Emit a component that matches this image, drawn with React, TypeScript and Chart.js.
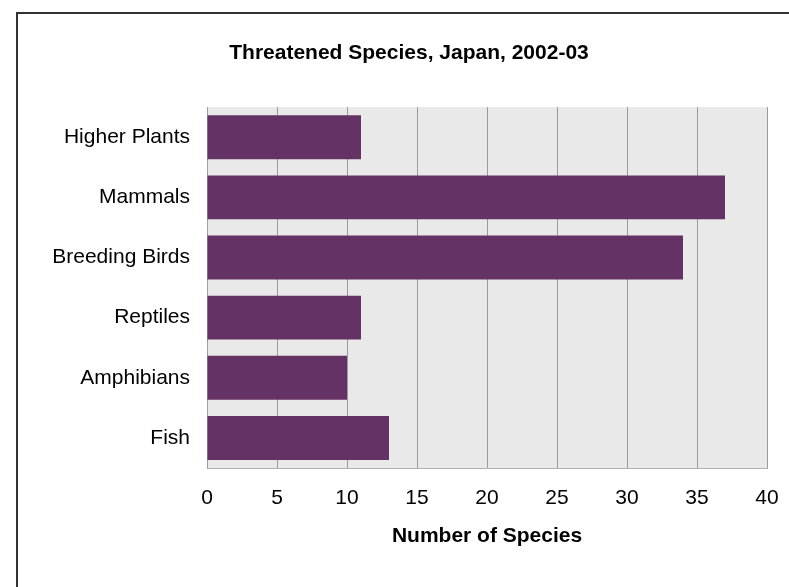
import React, { useEffect, useRef } from 'react';
import { Chart, registerables } from 'chart.js';

Chart.register(...registerables);

const chartTitle = 'Threatened Species, Japan, 2002-03';
const categories = ['Higher Plants', 'Mammals', 'Breeding Birds', 'Reptiles', 'Amphibians', 'Fish'];
const speciesCounts = [11, 37, 34, 11, 10, 13];
const xAxisTitle = 'Number of Species';
const xMin = 0;
const xMax = 40;
const xStep = 5;

const plotBackground = {
  id: 'plotBackground',
  beforeDraw(chart: any) {
    const { ctx, chartArea } = chart;
    if (!chartArea) return;
    ctx.save();
    ctx.fillStyle = '#e9e9e9';
    ctx.fillRect(chartArea.left, chartArea.top, chartArea.right - chartArea.left, chartArea.bottom - chartArea.top);
    ctx.restore();
  },
};

export default function App() {
  const canvasRef = useRef<HTMLCanvasElement | null>(null);

  useEffect(() => {
    if (!canvasRef.current) return;
    const chart = new Chart(canvasRef.current, {
      type: 'bar',
      data: {
        labels: categories,
        datasets: [
          {
            data: speciesCounts,
            backgroundColor: '#643264',
            borderWidth: 0,
            barPercentage: 0.73,
            categoryPercentage: 1,
          },
        ],
      },
      options: {
        indexAxis: 'y',
        responsive: false,
        animation: false,
        devicePixelRatio: 1,
        layout: { padding: { top: 0, right: 22, bottom: 29, left: 33 } },
        plugins: {
          legend: { display: false },
          tooltip: { enabled: false },
          title: {
            display: true,
            text: chartTitle,
            color: '#000',
            font: { family: 'Liberation Sans, Arial, sans-serif', size: 21, weight: 'bold' },
            padding: { top: 27, bottom: 41 },
          },
        },
        scales: {
          x: {
            min: xMin,
            max: xMax,
            ticks: {
              stepSize: xStep,
              color: '#000',
              padding: 18,
              font: { family: 'Liberation Sans, Arial, sans-serif', size: 21 },
            },
            grid: { color: '#9a9a9a', lineWidth: 1, drawTicks: false },
            border: { display: true, color: '#b0b0b0', width: 1 },
            title: {
              display: true,
              text: xAxisTitle,
              color: '#000',
              font: { family: 'Liberation Sans, Arial, sans-serif', size: 21, weight: 'bold' },
              padding: { top: 0, bottom: 9 },
            },
            afterFit(scale: any) {
              scale.height = 90;
              scale.paddingRight = 12;
              scale.paddingLeft = 0;
            },
          },
          y: {
            ticks: {
              color: '#000',
              padding: 17,
              font: { family: 'Liberation Sans, Arial, sans-serif', size: 21 },
            },
            grid: { display: false, drawTicks: false },
            border: { display: true, color: '#a0a0a0', width: 1 },
            afterFit(scale: any) {
              scale.width = 156;
            },
          },
        },
      },
      plugins: [plotBackground],
    });
    return () => chart.destroy();
  }, []);

  return (
    <div
      style={{
        position: 'absolute',
        left: 16,
        top: 12,
        width: 773,
        height: 575,
        borderLeft: '2px solid #333',
        borderTop: '2px solid #333',
        background: '#fff',
        overflow: 'hidden',
      }}
    >
      <canvas ref={canvasRef} width={771} height={573} style={{ display: 'block' }} />
    </div>
  );
}
